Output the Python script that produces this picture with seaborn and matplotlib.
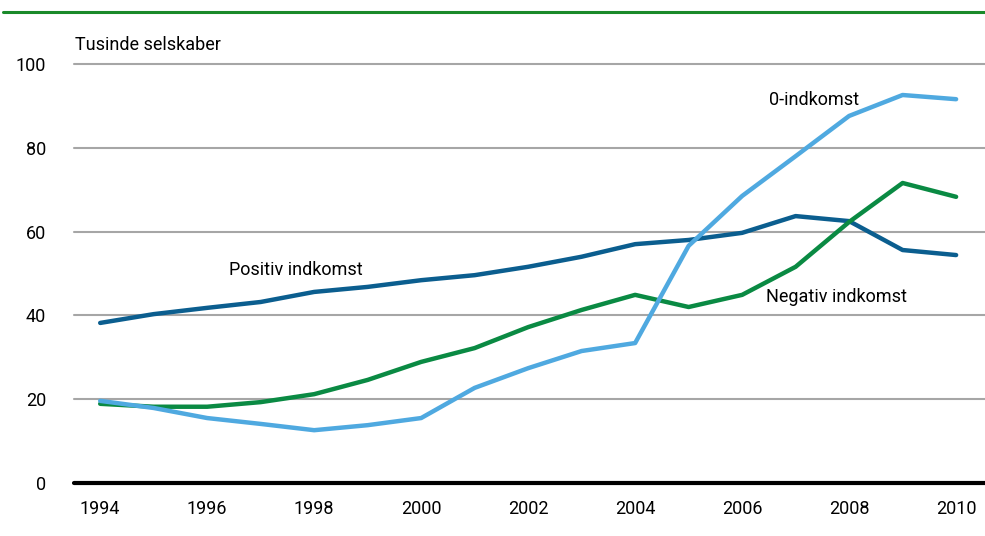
import pandas as pd
import matplotlib.pyplot as plt
import seaborn as sns
from matplotlib.lines import Line2D

years = list(range(1994, 2011))
positiv = [38.2, 40.3, 41.8, 43.2, 45.6, 46.8, 48.4, 49.6, 51.6, 54.0, 57.0, 58.0, 59.7, 63.7, 62.5, 55.6, 54.4]
negativ = [18.9, 18.2, 18.2, 19.3, 21.2, 24.6, 28.9, 32.2, 37.2, 41.3, 44.9, 42.0, 44.9, 51.6, 62.3, 71.6, 68.3]
nul = [19.6, 17.9, 15.5, 14.1, 12.6, 13.8, 15.5, 22.7, 27.4, 31.5, 33.4, 56.6, 68.5, 78.0, 87.6, 92.6, 91.6]
series_names = ['Positiv indkomst', 'Negativ indkomst', '0-indkomst']
colors = ['#0b5e8f', '#0a8a43', '#4fa9e0']
y_ticks = [0, 20, 40, 60, 80, 100]
x_ticks = list(range(1994, 2011, 2))

df = pd.DataFrame({
    'year': years * 3,
    'value': positiv + negativ + nul,
    'serie': [series_names[0]] * 17 + [series_names[1]] * 17 + [series_names[2]] * 17,
})

sns.set_style('white')
plt.rcParams['font.family'] = ['Roboto', 'DejaVu Sans']
plt.rcParams['text.color'] = 'black'

fig = plt.figure(figsize=(9.85, 5.36), dpi=100)
ax = fig.add_axes([0.0751, 0.0989, 0.9249, 0.7817])

sns.lineplot(data=df, x='year', y='value', hue='serie', palette=dict(zip(series_names, colors)),
             linewidth=3.2, legend=False, ax=ax, zorder=3)

ax.set_xlim(1993.51, 2010.54)
ax.set_ylim(0, 100)
ax.set_yticks(y_ticks)
ax.set_xticks(x_ticks)
ax.set_xlabel('')
ax.set_ylabel('')
for y in y_ticks[1:]:
    ax.axhline(y, color='#a6a6a6', linewidth=1.5, zorder=1, clip_on=False)
ax.axhline(0, color='black', linewidth=3, zorder=4, clip_on=False)
sns.despine(ax=ax, left=True, bottom=True, top=True, right=True)
ax.tick_params(axis='both', length=0, labelsize=13, colors='black')
ax.tick_params(axis='y', pad=20)
ax.tick_params(axis='x', pad=12)

ax.text(1996.4, 50.8, 'Positiv indkomst', fontsize=13, va='center', ha='left')
ax.text(2006.5, 91.4, '0-indkomst', fontsize=13, va='center', ha='left')
ax.text(2006.45, 44.4, 'Negativ indkomst', fontsize=13, va='center', ha='left')

fig.text(0.076, 0.916, 'Tusinde selskaber', fontsize=13, va='center', ha='left')
fig.add_artist(Line2D([0.003, 1.0], [0.977, 0.977], color='#1a8a2a', linewidth=2.2, transform=fig.transFigure))

fig.savefig('out.png', dpi=100)
